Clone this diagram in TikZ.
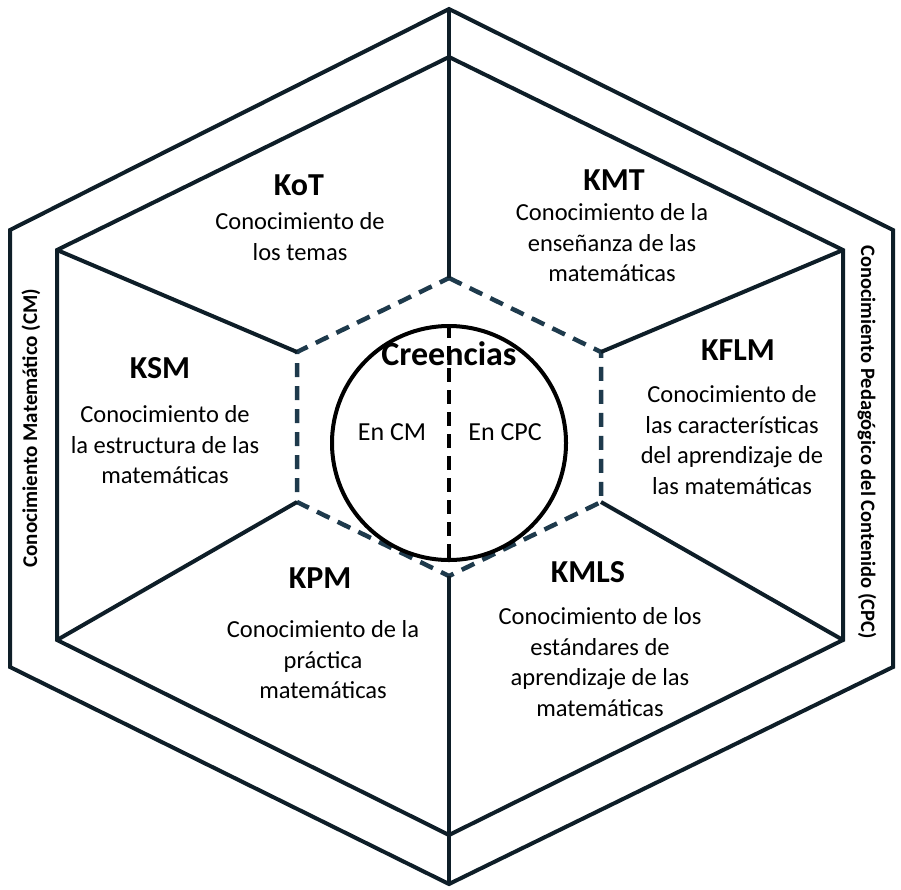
\documentclass[tikz,border=0pt]{standalone}
\usepackage{fontspec}
\setmainfont{Carlito}
\begin{document}
\begin{tikzpicture}[x=1pt,y=-1pt,
  hexline/.style={line width=4pt,color=linec,line join=miter},
  dashline/.style={line width=4.5pt,color=dashc,dash pattern=on 14pt off 9pt},
  ttl/.style={font=\fontsize{32}{36}\selectfont\bfseries,anchor=center},
  body/.style={font=\fontsize{24.5}{30.5}\selectfont,align=center,anchor=north}]
\definecolor{dashc}{HTML}{1E3A4C}
\definecolor{linec}{HTML}{0E1E28}
\useasboundingbox (0,0) rectangle (901,889);
% outer hexagon
\coordinate (oT) at (449,9); \coordinate (oB) at (449,884);
\draw[hexline] (oT) -- (893,230) -- (893,667) -- (oB) -- (10,667) -- (10,230) -- cycle;
% inner hexagon
\coordinate (iT) at (449,57); \coordinate (iB) at (449,835);
\coordinate (iUL) at (57,250); \coordinate (iLL) at (57,640);
\coordinate (iUR) at (843,250); \coordinate (iLR) at (843,640);
\draw[hexline] (iT) -- (iUR) -- (iLR) -- (iB) -- (iLL) -- (iUL) -- cycle;
% central dashed hexagon
\coordinate (cT) at (449,278); \coordinate (cB) at (449,576);
\coordinate (cUL) at (297,352); \coordinate (cLL) at (297,502);
\coordinate (cUR) at (601,352); \coordinate (cLR) at (601,502);
\draw[dashline] (cT) -- (cUR) -- (cLR) -- (cB) -- (cLL) -- (cUL) -- cycle;
% spokes
\draw[hexline] (oT) -- (cT);
\draw[hexline] (cB) -- (oB);
\draw[hexline] (iUL) -- (cUL);
\draw[hexline] (iLL) -- (cLL);
\draw[hexline] (iUR) -- (cUR);
\draw[hexline] (iLR) -- (cLR);
% circle
\node[circle,draw,line width=4pt,minimum size=234pt,inner sep=0pt] (circ) at (449,443) {};
\draw[line width=4.5pt,dash pattern=on 14pt off 8pt] (circ.north) -- (circ.south);
\node[font=\fontsize{34}{38}\selectfont\bfseries] (cre) at (449,354) {Creencias};
\node[font=\fontsize{26}{30}\selectfont] (ecm) at (392,432) {En CM};
\node[font=\fontsize{26}{30}\selectfont] (ecpc) at (505,432) {En CPC};
% sectors
\node[ttl] (kot) at (299,185) {KoT};
\node[body] (kotb) at (300,209) {Conocimiento de\\los temas};
\node[ttl] (kmt) at (614,180) {KMT};
\node[body] (kmtb) at (612,200) {Conocimiento de la\\enseñanza de las\\matemáticas};
\node[ttl] (ksm) at (160,368) {KSM};
\node[body] (ksmb) at (165,402) {Conocimiento de\\la estructura de las\\matemáticas};
\node[ttl] (kflm) at (738,350) {KFLM};
\node[body] (kflmb) at (732,382) {Conocimiento de\\las características\\del aprendizaje de\\las matemáticas};
\node[ttl] (kpm) at (320,578) {KPM};
\node[body] (kpmb) at (323,617) {Conocimiento de la\\práctica\\matemáticas};
\node[ttl] (kmls) at (588,572) {KMLS};
\node[body] (kmlsb) at (600,604) {Conocimiento de los\\estándares de\\aprendizaje de las\\matemáticas};
% side labels
\node[font=\fontsize{21}{23}\selectfont\bfseries,rotate=90] (lcm) at (31,428) {Conocimiento Matemático (CM)};
\node[font=\fontsize{20.5}{23}\selectfont\bfseries,rotate=-90] (lcpc) at (867,442) {Conocimiento Pedagógico del Contenido (CPC)};
\end{tikzpicture}
\end{document}
